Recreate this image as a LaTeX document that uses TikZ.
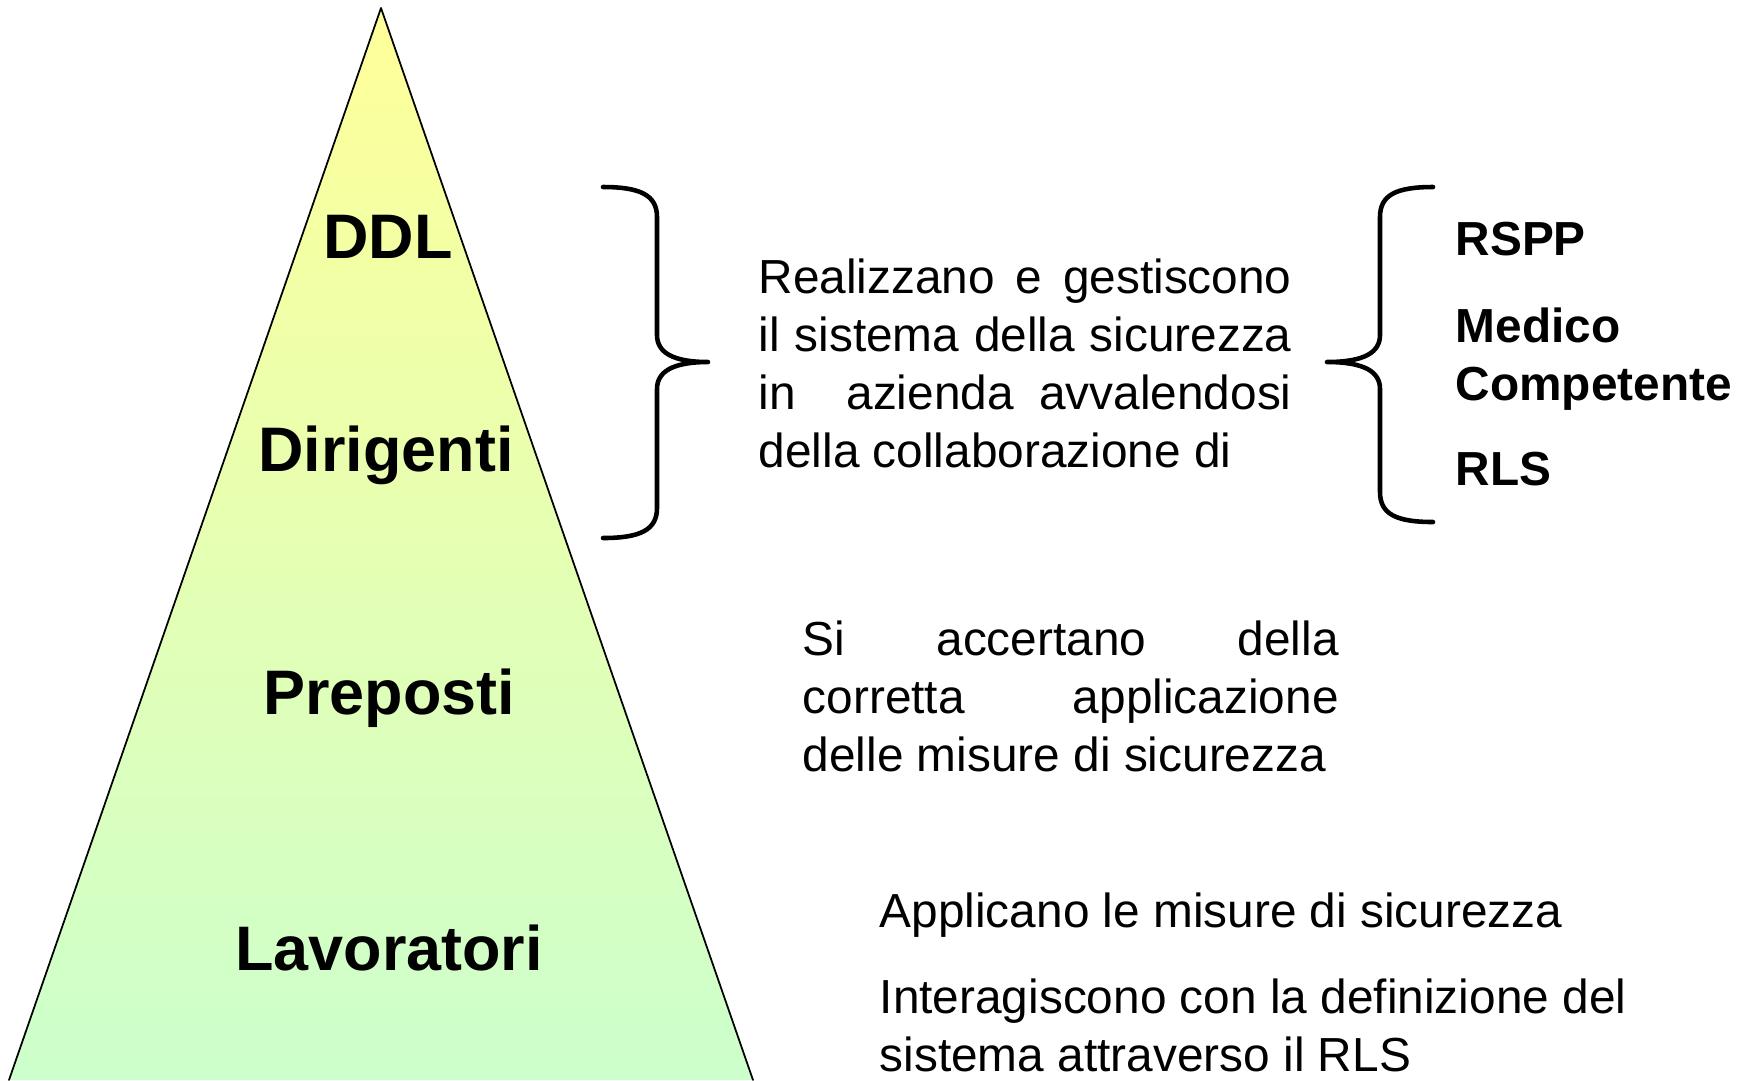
\documentclass[tikz,border=0pt]{standalone}
\usepackage{fontspec}
\setmainfont{Liberation Sans}
\usepackage{tikz}

\definecolor{pyrtop}{HTML}{FFFF99}
\definecolor{pyrbottom}{HTML}{CCFFCC}

\begin{document}
\begin{tikzpicture}[
	x=0.1mm, y=-0.1mm,
	every node/.style={inner sep=0pt, font=\fontsize{13.6}{16.5}\selectfont},
	tier/.style={anchor=base, font=\fontsize{17.9}{21}\selectfont\bfseries},
	duty/.style={anchor=north west, align=justify},
	role/.style={anchor=north west, align=left, font=\fontsize{13.6}{16.5}\selectfont\bfseries},
	bracket/.style={line width=1.3pt},
	line cap=round,
	line join=round
	]
	
	\useasboundingbox (0,0) rectangle (1742,1080);
	
	% pyramid
	\coordinate (apex) at (381,8);
	\coordinate (baseL) at (9,1080);
	\coordinate (baseR) at (753,1080);
	\shade[top color=pyrtop, bottom color=pyrbottom] (apex) -- (baseL) -- (baseR) -- cycle;
	\draw[line width=0.5pt] (baseL) -- (apex) -- (baseR);
	
	\node[tier] (ddl) at (388,258) {DDL};
	\node[tier] (dirigenti) at (386,471) {Dirigenti};
	\node[tier] (preposti) at (389,714) {Preposti};
	\node[tier] (lavoratori) at (389,970) {Lavoratori};
	
	% first brace
	\coordinate (b1top) at (603,187);
	\coordinate (b1tip) at (708,362);
	\coordinate (b1bot) at (603,538);
	\draw[bracket] (b1top) .. controls (640,187) and (657,195) .. (657,217) -- (657,335)
		.. controls (657,352) and (672,362) .. (b1tip)
		.. controls (672,362) and (657,372) .. (657,389) -- (657,508)
		.. controls (657,530) and (640,538) .. (b1bot);
	
	\node[duty, text width=53.3mm] (gestione) at (758,258)
		{Realizzano e gestiscono\linebreak il sistema della sicurezza\linebreak in\ \ azienda avvalendosi\linebreak della collaborazione di};
	
	% second brace
	\coordinate (b2top) at (1433,187);
	\coordinate (b2tip) at (1327,362);
	\coordinate (b2bot) at (1433,522);
	\draw[bracket] (b2top) .. controls (1396,187) and (1380,195) .. (1380,217) -- (1380,335)
		.. controls (1380,352) and (1365,362) .. (b2tip)
		.. controls (1365,362) and (1380,372) .. (1380,389) -- (1380,492)
		.. controls (1380,514) and (1396,522) .. (b2bot);
	
	\node[role, anchor=base west] (rspp) at (1455,255) {RSPP};
	\node[role] (medico) at (1455,307) {Medico\\Competente};
	\node[role, anchor=base west] (rls) at (1455,485) {RLS};
	
	\node[duty, text width=53.6mm] (controllo) at (802,620)
		{Si accertano della\linebreak corretta applicazione\linebreak delle misure di sicurezza};
	
	\node[duty, align=left] (applicano) at (879,892) {Applicano le misure di sicurezza};
	\node[duty, align=left] (interagiscono) at (879,978)
		{Interagiscono con la definizione del\\sistema attraverso il RLS};
	
\end{tikzpicture}
\end{document}
